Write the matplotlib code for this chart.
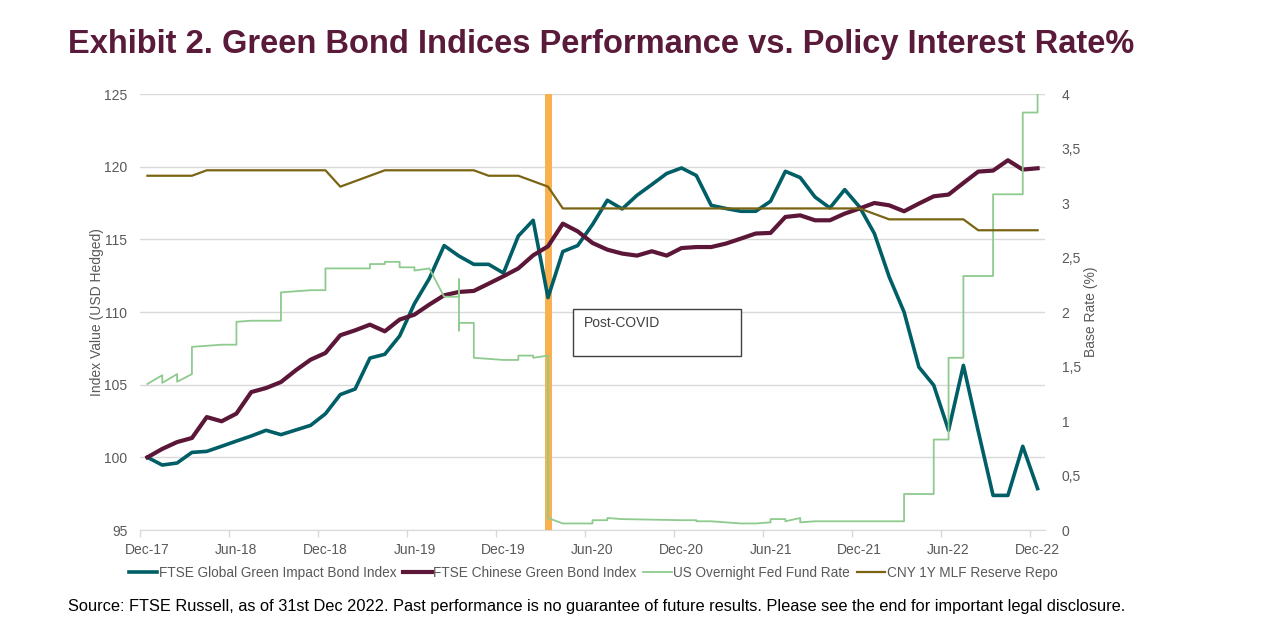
import numpy as np
import matplotlib
matplotlib.use("Agg")
import matplotlib.pyplot as plt
from matplotlib.patches import Rectangle
from matplotlib.ticker import FuncFormatter, FixedLocator

plt.rcParams['font.family'] = ['Liberation Sans', 'DejaVu Sans']

# ---------------- data ----------------
months = ["Dec-17", "Jun-18", "Dec-18", "Jun-19", "Dec-19", "Jun-20",
          "Dec-20", "Jun-21", "Dec-21", "Jun-22", "Dec-22"]

global_green = [100.0, 99.47, 99.61, 100.34, 100.41, 100.76, 101.12, 101.47, 101.86, 101.56,
                101.88, 102.2, 103.0, 104.32, 104.7, 106.83, 107.09, 108.35, 110.58, 112.3,
                114.57, 113.85, 113.28, 113.28, 112.68, 115.23, 116.31, 110.99, 114.16, 114.57,
                116.02, 117.69, 117.09, 118.03, 118.77, 119.53, 119.91, 119.39, 117.34, 117.12,
                116.93, 116.93, 117.62, 119.68, 119.25, 117.91, 117.16, 118.42, 117.23, 115.4,
                112.41, 110.0, 106.21, 104.96, 101.86, 106.33, 101.8, 97.38, 97.38, 100.76,
                97.85]

chinese_green = [100.0, 100.58, 101.05, 101.33, 102.77, 102.48, 103.01, 104.49, 104.77, 105.18,
                 105.99, 106.72, 107.18, 108.4, 108.74, 109.13, 108.67, 109.48, 109.82, 110.51,
                 111.15, 111.38, 111.45, 111.95, 112.46, 113.0, 113.9, 114.52, 116.08, 115.55,
                 114.75, 114.29, 114.02, 113.88, 114.18, 113.88, 114.4, 114.47, 114.47, 114.71,
                 115.05, 115.4, 115.44, 116.54, 116.65, 116.31, 116.31, 116.77, 117.12, 117.5,
                 117.34, 116.93, 117.46, 117.96, 118.08, 118.88, 119.66, 119.73, 120.44, 119.8,
                 119.89]

cny_mlf = [3.25, 3.25, 3.25, 3.25, 3.30, 3.30, 3.30, 3.30, 3.30, 3.30,
           3.30, 3.30, 3.30, 3.15, 3.20, 3.25, 3.30, 3.30, 3.30, 3.30,
           3.30, 3.30, 3.30, 3.25, 3.25, 3.25, 3.20, 3.15, 2.95, 2.95,
           2.95, 2.95, 2.95, 2.95, 2.95, 2.95, 2.95, 2.95, 2.95, 2.95,
           2.95, 2.95, 2.95, 2.95, 2.95, 2.95, 2.95, 2.95, 2.95, 2.90,
           2.85, 2.85, 2.85, 2.85, 2.85, 2.85, 2.75, 2.75, 2.75, 2.75,
           2.75]

# US overnight fed fund rate (daily series, vertices in month offsets from Dec-17)
fed_month = [0, 1, 1, 2, 2, 3, 3, 4, 5, 6, 6, 7, 8, 9, 9, 10, 11, 12, 12, 15, 15, 16, 16,
             17, 17, 18, 18, 19, 20, 21, 21, 21, 21, 22, 22, 23, 24, 25, 25, 26, 26, 27, 27,
             28, 30, 30, 31, 31, 32, 36, 37, 37, 38, 39, 40, 41, 42, 42, 43, 43, 44, 44, 45,
             48, 51, 51, 53, 53, 54, 54, 55, 55, 57, 57, 59, 59, 60, 60]
fed_rate = [1.34, 1.42, 1.35, 1.43, 1.36, 1.43, 1.68, 1.69, 1.70, 1.70, 1.91, 1.92, 1.92,
            1.92, 2.18, 2.19, 2.20, 2.20, 2.40, 2.40, 2.44, 2.44, 2.46, 2.46, 2.41, 2.41,
            2.38, 2.40, 2.14, 2.14, 2.30, 1.83, 1.90, 1.90, 1.58, 1.57, 1.56, 1.56, 1.60,
            1.60, 1.58, 1.60, 0.11, 0.06, 0.06, 0.09, 0.09, 0.11, 0.10, 0.09, 0.09, 0.08,
            0.08, 0.07, 0.06, 0.06, 0.07, 0.10, 0.10, 0.08, 0.11, 0.07, 0.08, 0.08, 0.08,
            0.33, 0.33, 0.83, 0.83, 1.58, 1.58, 2.33, 2.33, 3.08, 3.08, 3.83, 3.83, 4.33]

covid_month = 27

# ---------------- style ----------------
C_TEAL = '#005e66'
C_MAROON = '#5c1738'
C_GREEN = '#8fca8f'
C_OLIVE = '#7a6413'
C_ORANGE = '#f9b04e'
C_TITLE = '#5a1a3a'
C_TXT = '#595959'
C_GRID = '#d9d9d9'

W, H = 1280, 644
fig = plt.figure(figsize=(W / 100, H / 100), dpi=100)
L, R, T, B = 140, 1045, 94, 530
ax = fig.add_axes([L / W, 1 - B / H, (R - L) / W, (B - T) / H])
ax2 = ax.twinx()
ax.set_zorder(1)
ax2.set_zorder(2)
ax2.patch.set_visible(False)

x = np.arange(len(global_green))
ax.axvline(covid_month, color=C_ORANGE, lw=5, zorder=1)
l1, = ax.plot(x, global_green, color=C_TEAL, lw=2.6, zorder=3,
              label='FTSE Global Green Impact Bond Index')
l2, = ax.plot(x, chinese_green, color=C_MAROON, lw=3.0, zorder=4,
              label='FTSE Chinese Green Bond Index')
l3, = ax2.plot(fed_month, fed_rate, color=C_GREEN, lw=1.3, label='US Overnight Fed Fund Rate')
l4, = ax2.plot(x, cny_mlf, color=C_OLIVE, lw=1.6, label='CNY 1Y MLF Reserve Repo')

ax.set_xlim(-0.5, 60.5)
ax.set_ylim(95, 125)
ax2.set_ylim(0, 4)
ax.set_yticks(np.arange(95, 126, 5))
ax2.set_yticks(np.arange(0, 4.01, 0.5))
ax2.yaxis.set_major_formatter(FuncFormatter(lambda v, p: ('%g' % v).replace('.', ',')))

ax.xaxis.set_major_locator(FixedLocator(np.arange(-0.5, 60, 6)))
ax.xaxis.set_minor_locator(FixedLocator(np.arange(0, 61, 6)))
ax.set_xticklabels([], minor=False)
ax.set_xticklabels(months, minor=True)
ax.tick_params(axis='x', which='major', length=5, color=C_GRID, width=1)
ax.tick_params(axis='x', which='minor', length=0, pad=9, labelsize=10, labelcolor=C_TXT)
ax.tick_params(axis='y', length=0, pad=9, labelsize=10, labelcolor=C_TXT)
ax2.tick_params(axis='y', length=0, pad=12, labelsize=10, labelcolor=C_TXT)

ax.grid(axis='y', color=C_GRID, lw=1)
ax.set_axisbelow(True)
for s in ['top', 'left', 'right']:
    ax.spines[s].set_visible(False)
ax.spines['bottom'].set_color(C_GRID)
for s in ax2.spines.values():
    s.set_visible(False)

ax.set_ylabel('Index Value (USD Hedged)', fontsize=10, color=C_TXT)
ax.yaxis.set_label_coords(-0.040, 0.5)
ax2.set_ylabel('Base Rate (%)', fontsize=10, color=C_TXT, rotation=90)
ax2.yaxis.set_label_coords(1.043, 0.5)

# Post-COVID annotation box
ax.add_patch(Rectangle((0.4785, 0.399), 0.1855, 0.108, transform=ax.transAxes,
                       fill=True, facecolor='white', edgecolor='#404040', lw=1, zorder=5))
ax.text(0.4906, 0.474, 'Post-COVID', transform=ax.transAxes, fontsize=10,
        color='#404040', va='center', ha='left', zorder=6)

# legend
fig.legend(handles=[l1, l2, l3, l4], loc='center', bbox_to_anchor=(593 / W, 1 - 573 / H),
           ncol=4, frameon=False, fontsize=9.8, handlelength=2.1, handletextpad=0.1,
           columnspacing=0.5, labelcolor=C_TXT)

# title
fig.text(68 / W, 1 - 45 / H, 'Exhibit 2. Green Bond Indices Performance vs. Policy Interest Rate%',
         fontsize=23.5, weight='bold', color=C_TITLE, va='center', ha='left')

fig.text(68 / W, 1 - 607 / H,
         'Source: FTSE Russell, as of 31st Dec 2022. Past performance is no guarantee of future results. '
         'Please see the end for important legal disclosure.',
         fontsize=11.8, color='black', va='center', ha='left')

fig.savefig('out.png', dpi=100, facecolor='white')
